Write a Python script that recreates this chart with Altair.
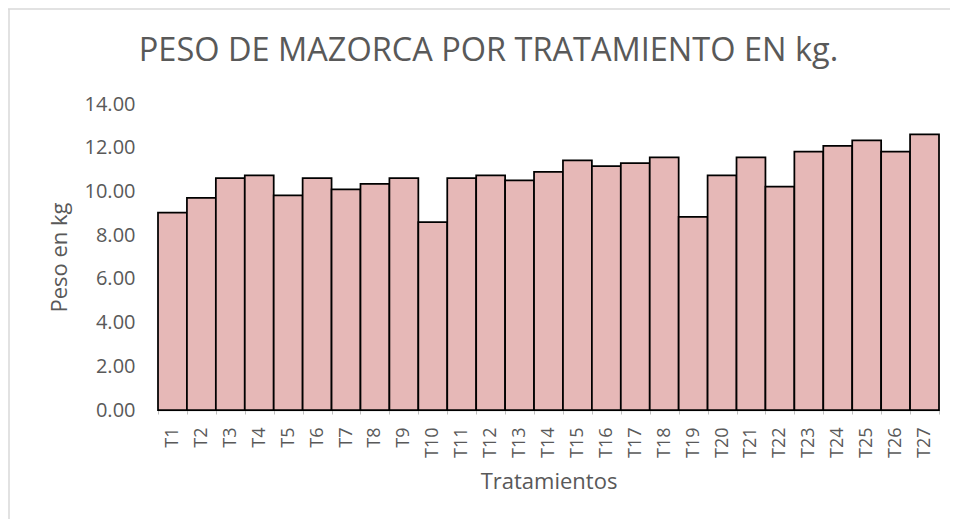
import altair as alt
import pandas as pd

tratamientos = [f"T{i}" for i in range(1, 28)]
pesos = [9.03, 9.71, 10.61, 10.74, 9.82, 10.61, 10.09, 10.35, 10.61, 8.60,
         10.61, 10.74, 10.51, 10.89, 11.42, 11.16, 11.30, 11.56, 8.84, 10.74,
         11.56, 10.22, 11.82, 12.08, 12.34, 11.82, 12.61]
y_ticks = [0, 2, 4, 6, 8, 10, 12, 14]

df = pd.DataFrame({"Tratamiento": tratamientos, "Peso": pesos})

TEXT = "#595959"
FONT = "Open Sans"

bars = alt.Chart(df).mark_bar(
    fill="#e6b8b7", stroke="#000000", strokeWidth=1.75
).encode(
    x=alt.X(
        "Tratamiento:N",
        sort=tratamientos,
        scale=alt.Scale(paddingInner=0, paddingOuter=0),
        axis=alt.Axis(
            title="Tratamientos",
            labelAngle=-90,
            labelFontSize=18,
            labelColor=TEXT,
            labelFont=FONT,
            labelPadding=13,
            tickBand="extent",
            tickSize=4,
            tickColor="#bfbfbf",
            domainColor="#bfbfbf",
            domainWidth=1.5,
            titleFontSize=22,
            titleFont=FONT,
            titleColor=TEXT,
            titleFontWeight="normal",
            titleY=78,
            titleBaseline="alphabetic",
        ),
    ),
    y=alt.Y(
        "Peso:Q",
        scale=alt.Scale(domain=[0, 14], nice=False),
        axis=alt.Axis(
            title="Peso en kg",
            values=y_ticks,
            format=".2f",
            grid=False,
            domain=False,
            ticks=False,
            labelFontSize=20,
            labelColor=TEXT,
            labelFont=FONT,
            labelPadding=23,
            titleFontSize=22,
            titleFont=FONT,
            titleColor=TEXT,
            titleFontWeight="normal",
            titleX=-92,
            titleY=153,
            titleAngle=-90,
            titleAlign="center",
            titleBaseline="alphabetic",
        ),
    ),
)

frame_df = pd.DataFrame({"k": [0]})
top_line = alt.Chart(frame_df).mark_rule(color="#d9d9d9", strokeWidth=1.5).encode(
    x=alt.value(-150), x2=alt.value(800), y=alt.value(-95)
)
left_line = alt.Chart(frame_df).mark_rule(color="#d9d9d9", strokeWidth=1.5).encode(
    x=alt.value(-149), y=alt.value(-95), y2=alt.value(420)
)

chart = alt.layer(top_line, left_line, bars).properties(
    width=781,
    height=306,
    title=alt.TitleParams(
        "PESO DE MAZORCA POR TRATAMIENTO EN kg.",
        fontSize=32.5,
        font=FONT,
        color=TEXT,
        fontWeight="normal",
        anchor="middle",
        dx=-60,
        offset=-85,
        baseline="alphabetic",
    ),
    autosize=alt.AutoSizeParams(type="none"),
    padding={"left": 150, "top": 96, "right": 11, "bottom": 109},
).configure_view(stroke=None)

chart.save("out.html", embed_options={"renderer": "svg", "actions": False})
